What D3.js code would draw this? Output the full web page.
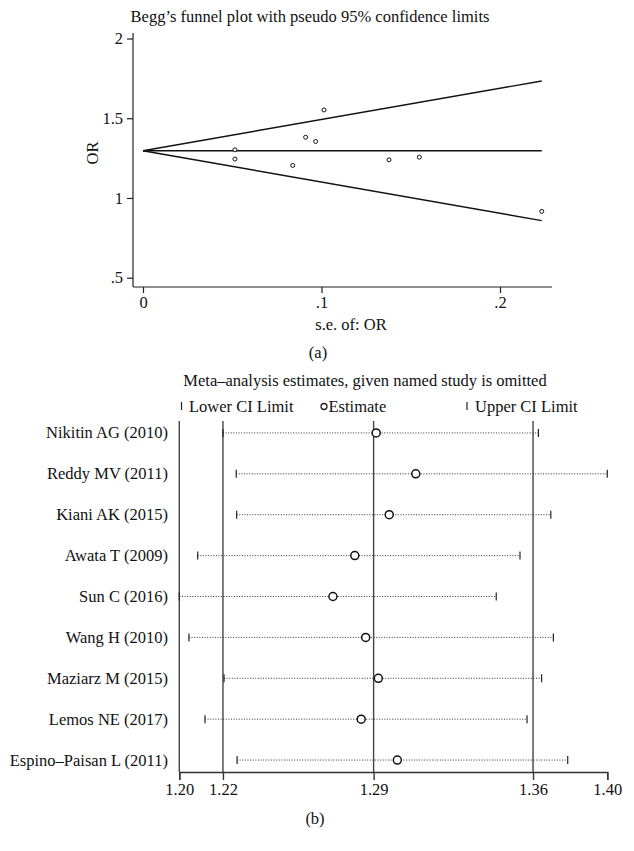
<!DOCTYPE html>
<html><head><meta charset="utf-8">
<script src="https://cdn.jsdelivr.net/npm/d3@7"></script>
<style>
html,body{margin:0;padding:0;background:#fff;}
svg text{font-family:"Liberation Serif","Times New Roman",serif;fill:#111;}
</style></head>
<body>
<svg id="c" width="634" height="851"></svg>
<script>
// ---------- Panel (a): Begg's funnel plot ----------
const funnelSE = [0.0515, 0.0515, 0.0839, 0.0911, 0.0967, 0.1014, 0.1378, 0.1548, 0.2234];
const funnelOR = [1.302, 1.244, 1.204, 1.381, 1.354, 1.552, 1.239, 1.256, 0.916];
const pooledOR = 1.296;
const seMax = 0.2234;
const zValue = 1.96;
const funnelXTicks = [0, 0.1, 0.2];
const funnelXTickLabels = ["0", ".1", ".2"];
const funnelYTicks = [0.5, 1, 1.5, 2];
const funnelYTickLabels = [".5", "1", "1.5", "2"];

// ---------- Panel (b): influence analysis ----------
const studies = ["Nikitin AG (2010)", "Reddy MV (2011)", "Kiani AK (2015)", "Awata T (2009)",
  "Sun C (2016)", "Wang H (2010)", "Maziarz M (2015)", "Lemos NE (2017)", "Espino\u2013Paisan L (2011)"];
const lowerCI  = [1.2204, 1.2266, 1.2268, 1.2086, 1.2000, 1.2045, 1.2209, 1.2120, 1.2270];
const estimate = [1.2920, 1.3105, 1.2981, 1.2820, 1.2718, 1.2871, 1.2930, 1.2850, 1.3019];
const upperCI  = [1.3678, 1.4000, 1.3736, 1.3592, 1.3481, 1.3748, 1.3693, 1.3625, 1.3815];
const refLines = [1.2000, 1.2204, 1.2908, 1.3653];
const infTicks = [1.2000, 1.2204, 1.2908, 1.3653, 1.4000];
const infTickLabels = ["1.20", "1.22", "1.29", "1.36", "1.40"];

const svg = d3.select("#c");
const FS = 16.5;

// ===== Panel a =====
const ga = svg.append("g");
const xA = d3.scaleLinear().domain([0, 0.2]).range([143, 500]);
const yA = d3.scaleLinear().domain([0.5, 2]).range([277.7, 38.5]);
const axisXa = 133, axisYa = 287;

ga.append("text").attr("x", 310).attr("y", 22).attr("text-anchor", "middle")
  .style("font-size", FS + "px").text("Begg\u2019s funnel plot with pseudo 95% confidence limits");

// y axis
ga.append("g").attr("transform", `translate(${axisXa},0)`)
  .call(d3.axisLeft(yA).tickValues(funnelYTicks).tickFormat((d, i) => funnelYTickLabels[i]).tickSize(6).tickPadding(4))
  .call(g => g.select(".domain").attr("d", `M0,33V${axisYa}`))
  .call(g => g.selectAll("line,path").attr("stroke", "#222").attr("stroke-width", 1.2))
  .call(g => g.selectAll("text").style("font-size", FS + "px").attr("font-family", null));
// x axis
ga.append("g").attr("transform", `translate(0,${axisYa})`)
  .call(d3.axisBottom(xA).tickValues(funnelXTicks).tickFormat((d, i) => funnelXTickLabels[i]).tickSize(6).tickPadding(3))
  .call(g => g.select(".domain").attr("d", `M${axisXa},0H552`))
  .call(g => g.selectAll("line,path").attr("stroke", "#222").attr("stroke-width", 1.2))
  .call(g => g.selectAll("text").style("font-size", FS + "px").attr("font-family", null));

ga.append("text").attr("transform", `translate(98,153) rotate(-90)`).attr("text-anchor", "middle")
  .style("font-size", FS + "px").text("OR");
ga.append("text").attr("x", 351).attr("y", 330).attr("text-anchor", "middle")
  .style("font-size", FS + "px").text("s.e. of: OR");

const seRange = [0, seMax];
const lineGen = d3.line().x(d => xA(d[0])).y(d => yA(d[1]));
[ -zValue, 0, zValue ].forEach(z => {
  ga.append("path").attr("d", lineGen(seRange.map(s => [s, pooledOR + z * s])))
    .attr("fill", "none").attr("stroke", "#111").attr("stroke-width", 1.4);
});
ga.selectAll("circle.pt").data(funnelSE.map((s, i) => [s, funnelOR[i]])).join("circle")
  .attr("class", "pt").attr("cx", d => xA(d[0])).attr("cy", d => yA(d[1])).attr("r", 2)
  .attr("fill", "#fff").attr("stroke", "#111").attr("stroke-width", 1);

svg.append("text").attr("x", 318).attr("y", 358).attr("text-anchor", "middle")
  .style("font-size", FS + "px").text("(a)");

// ===== Panel b =====
const gb = svg.append("g");
const xB = d3.scaleLinear().domain([1.20, 1.40]).range([179.3, 607.3]);
const yB = d3.scaleBand().domain(studies).range([412.5, 780.5]);
const axisYb = 772;

gb.append("text").attr("x", 365).attr("y", 386).attr("text-anchor", "middle")
  .style("font-size", FS + "px").text("Meta\u2013analysis estimates, given named study is omitted");

// legend
const legY = 406;
gb.append("line").attr("x1", 181.5).attr("x2", 181.5).attr("y1", legY - 4).attr("y2", legY + 4).attr("stroke", "#222").attr("stroke-width", 1.2);
gb.append("text").attr("x", 189).attr("y", legY + 5.5).style("font-size", FS + "px").text("Lower CI Limit");
gb.append("circle").attr("cx", 324).attr("cy", legY + 0.5).attr("r", 3).attr("fill", "none").attr("stroke", "#222").attr("stroke-width", 1.3);
gb.append("text").attr("x", 328.5).attr("y", legY + 5.5).style("font-size", FS + "px").text("Estimate");
gb.append("line").attr("x1", 467).attr("x2", 467).attr("y1", legY - 4).attr("y2", legY + 4).attr("stroke", "#222").attr("stroke-width", 1.2);
gb.append("text").attr("x", 475).attr("y", legY + 5.5).style("font-size", FS + "px").text("Upper CI Limit");

// reference vertical lines
gb.selectAll("line.ref").data(refLines).join("line").attr("class", "ref")
  .attr("x1", d => xB(d)).attr("x2", d => xB(d)).attr("y1", 421).attr("y2", axisYb)
  .attr("stroke", "#444").attr("stroke-width", 1.4);

// x axis
gb.append("g").attr("transform", `translate(0,${axisYb})`)
  .call(d3.axisBottom(xB).tickValues(infTicks).tickFormat((d, i) => infTickLabels[i]).tickSize(8).tickPadding(3))
  .call(g => g.selectAll("line,path").attr("stroke", "#333").attr("stroke-width", 1.4))
  .call(g => g.selectAll("text").style("font-size", FS + "px").attr("font-family", null));

// rows
const rows = gb.selectAll("g.row").data(studies).join("g").attr("class", "row")
  .attr("transform", d => `translate(0,${yB(d) + yB.bandwidth() / 2})`);
rows.append("text").attr("x", 168).attr("y", 5.5).attr("text-anchor", "end")
  .style("font-size", FS + "px").text(d => d);
rows.append("line").attr("x1", (d, i) => xB(lowerCI[i])).attr("x2", (d, i) => xB(upperCI[i]))
  .attr("stroke", "#333").attr("stroke-width", 1).attr("stroke-dasharray", "1,1.6");
rows.append("line").attr("x1", (d, i) => xB(lowerCI[i])).attr("x2", (d, i) => xB(lowerCI[i]))
  .attr("y1", -4).attr("y2", 4).attr("stroke", "#222").attr("stroke-width", 1.2);
rows.append("line").attr("x1", (d, i) => xB(upperCI[i])).attr("x2", (d, i) => xB(upperCI[i]))
  .attr("y1", -4).attr("y2", 4).attr("stroke", "#222").attr("stroke-width", 1.2);
rows.append("circle").attr("cx", (d, i) => xB(estimate[i])).attr("r", 4)
  .attr("fill", "#fff").attr("stroke", "#111").attr("stroke-width", 1.5);

svg.append("text").attr("x", 315).attr("y", 824).attr("text-anchor", "middle")
  .style("font-size", FS + "px").text("(b)");
</script>
</body></html>
